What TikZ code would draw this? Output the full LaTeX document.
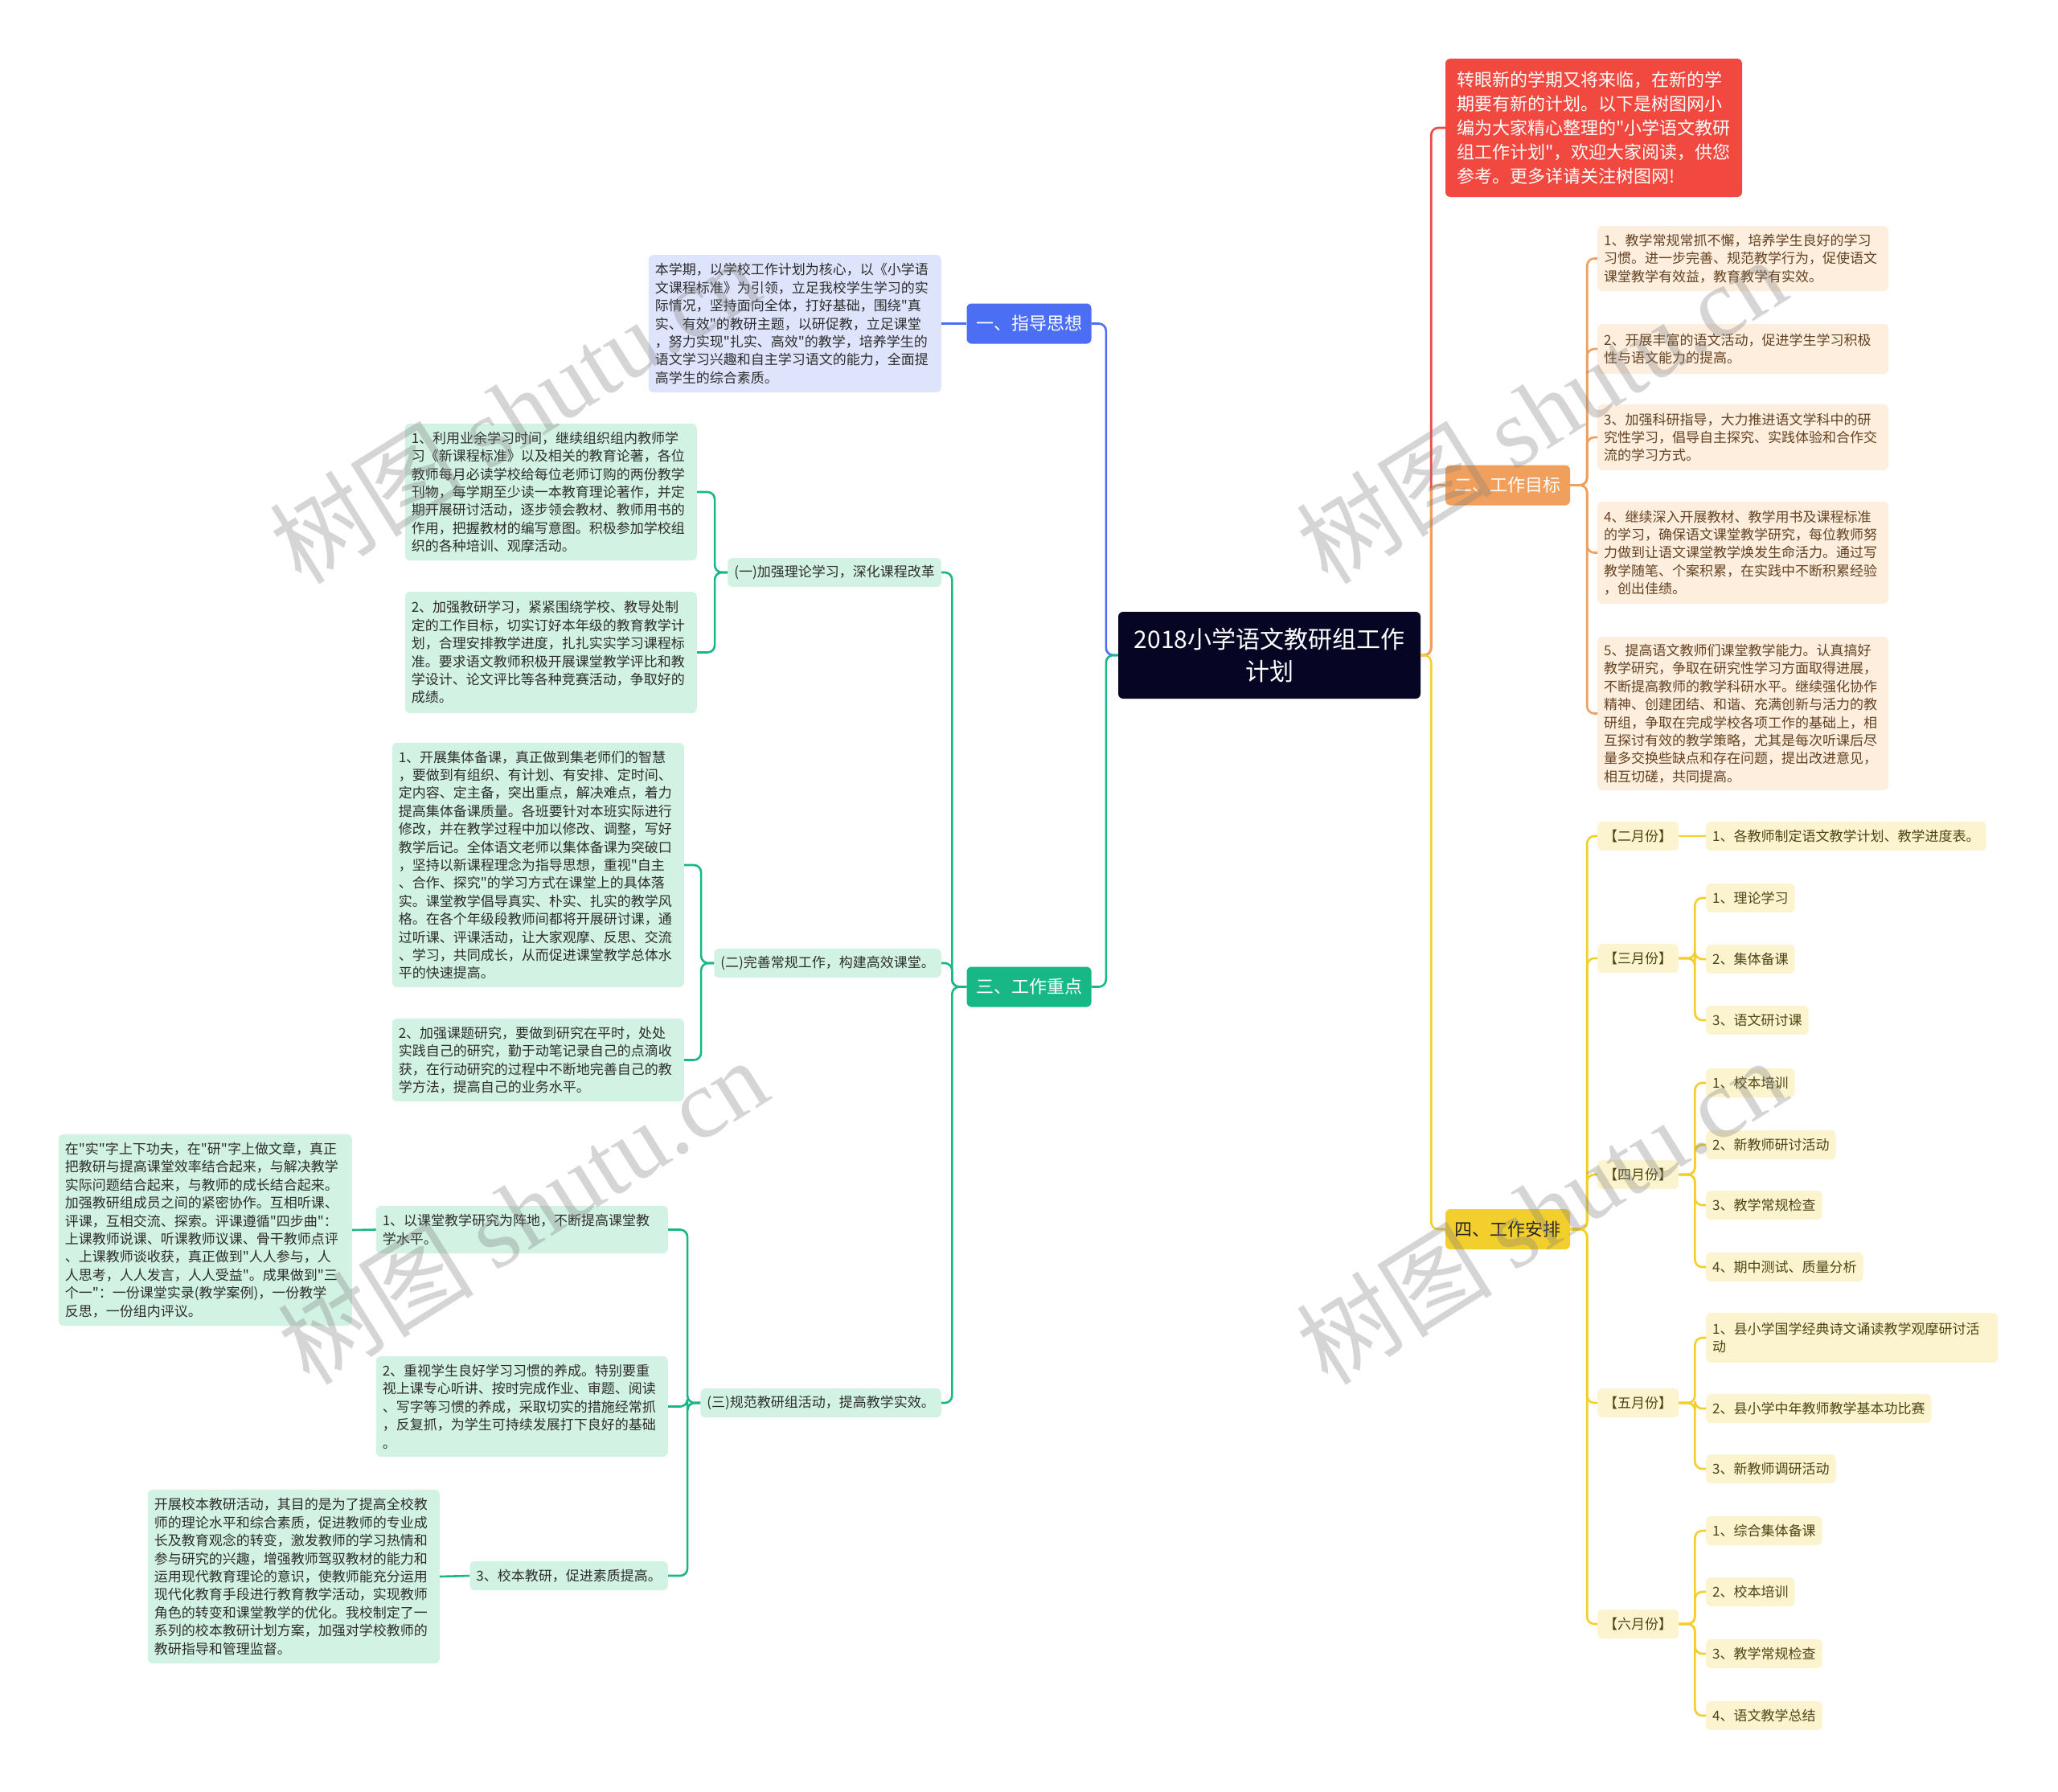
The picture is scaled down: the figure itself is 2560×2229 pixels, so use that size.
\documentclass[tikz,border=0pt]{standalone}
\usepackage{fontspec}
\setmainfont{Noto Sans CJK SC}[Ligatures=TeXOff]
\newfontfamily\wmfont{Liberation Serif}
\usepackage{tikz}
\definecolor{rootc}{RGB}{6, 6, 36}
\definecolor{redc}{RGB}{241, 72, 63}
\definecolor{bluec}{RGB}{76, 110, 245}
\definecolor{bluebg}{RGB}{222, 228, 251}
\definecolor{greenc}{RGB}{24, 183, 134}
\definecolor{greenbg}{RGB}{210, 242, 228}
\definecolor{orangec}{RGB}{240, 160, 92}
\definecolor{orangebg}{RGB}{253, 238, 222}
\definecolor{orangetext}{RGB}{100, 66, 34}
\definecolor{yellowc}{RGB}{243, 207, 46}
\definecolor{yellowbg}{RGB}{252, 244, 207}
\definecolor{yellowtext}{RGB}{78, 68, 20}
\definecolor{darktext}{RGB}{45, 45, 45}
\newcommand{\smallcn}{\fontsize{17}{22.4}\selectfont}
\newcommand{\midcn}{\fontsize{22}{30}\selectfont}
\newcommand{\bigcn}{\fontsize{30}{40}\selectfont}
\tikzset{
  box/.style={rounded corners=6pt, inner xsep=8pt, inner ysep=7pt, align=left, font=\smallcn},
  gbox/.style={box, fill=greenbg, text=darktext, text width=347pt},
  gsub/.style={box, fill=greenbg, text=darktext, minimum height=36pt},
  obox/.style={box, fill=orangebg, text=orangetext, text width=346pt},
  ybox/.style={box, fill=yellowbg, text=yellowtext, minimum height=36pt},
  topic/.style={rounded corners=6pt, font=\midcn, minimum width=155pt, minimum height=50pt, inner xsep=11pt},
  link/.style={line width=2.6pt, rounded corners=9pt},
  wm/.style={font=\fontsize{122}{122}\selectfont, text=gray, text opacity=0.33, rotate=32},
}

\begin{document}
\begin{tikzpicture}[x=1pt, y=-1pt]
    \useasboundingbox (0,0) rectangle (2560,2229);

    % Root
    \node[rounded corners=6pt, fill=rootc, text=white, font=\bigcn, align=center,
          minimum width=376pt, minimum height=108pt] (root) at (1579,815)
          {2018小学语文教研组工作\\计划};

    % Intro (red)
    \node[rounded corners=6pt, fill=redc, text=white, font=\midcn, align=left,
          text width=340pt, inner xsep=14.5pt, minimum height=172pt] (intro) at (1982.5,159)
          {转眼新的学期又将来临，在新的学\\期要有新的计划。以下是树图网小\\编为大家精心整理的"小学语文教研\\组工作计划"，欢迎大家阅读，供您\\参考。更多详请关注树图网!};

    % Main topics
    \node[topic, fill=bluec, text=white] (b1) at (1280,402.5) {一、指导思想};
    \node[topic, fill=orangec, text=white] (b2) at (1875.5,603.5) {二、工作目标};
    \node[topic, fill=greenc, text=white] (b3) at (1280,1227.5) {三、工作重点};
    \node[topic, fill=yellowc, text=black!85] (b4) at (1875.5,1529) {四、工作安排};

    % 一、指导思想
    \node[box, fill=bluebg, text=darktext, text width=348pt, minimum height=171pt, anchor=east] (bt) at (1171,402.5)
      {本学期，以学校工作计划为核心，以《小学语\\文课程标准》为引领，立足我校学生学习的实\\际情况，坚持面向全体，打好基础，围绕"真\\实、有效"的教研主题，以研促教，立足课堂\\，努力实现"扎实、高效"的教学，培养学生的\\语文学习兴趣和自主学习语文的能力，全面提\\高学生的综合素质。};

    % 三、工作重点 -- sub topics
    \node[gsub, anchor=east] (s1) at (1171,712) {(一)加强理论学习，深化课程改革};
    \node[gsub, anchor=east] (s2) at (1171,1198) {(二)完善常规工作，构建高效课堂。};
    \node[gsub, anchor=east] (s3) at (1171,1745) {(三)规范教研组活动，提高教学实效。};

    % (一)
    \node[gbox, minimum height=170pt, anchor=east] (s1a) at (867,612)
      {1、利用业余学习时间，继续组织组内教师学\\习《新课程标准》以及相关的教育论著，各位\\教师每月必读学校给每位老师订购的两份教学\\刊物，每学期至少读一本教育理论著作，并定\\期开展研讨活动，逐步领会教材、教师用书的\\作用，把握教材的编写意图。积极参加学校组\\织的各种培训、观摩活动。};
    \node[gbox, minimum height=151pt, anchor=east] (s1b) at (867,811.5)
      {2、加强教研学习，紧紧围绕学校、教导处制\\定的工作目标，切实订好本年级的教育教学计\\划，合理安排教学进度，扎扎实实学习课程标\\准。要求语文教师积极开展课堂教学评比和教\\学设计、论文评比等各种竞赛活动，争取好的\\成绩。};

    % (二)
    \node[gbox, minimum height=304pt, anchor=east] (s2a) at (851,1076)
      {1、开展集体备课，真正做到集老师们的智慧\\，要做到有组织、有计划、有安排、定时间、\\定内容、定主备，突出重点，解决难点，着力\\提高集体备课质量。各班要针对本班实际进行\\修改，并在教学过程中加以修改、调整，写好\\教学后记。全体语文老师以集体备课为突破口\\，坚持以新课程理念为指导思想，重视"自主\\、合作、探究"的学习方式在课堂上的具体落\\实。课堂教学倡导真实、朴实、扎实的教学风\\格。在各个年级段教师间都将开展研讨课，通\\过听课、评课活动，让大家观摩、反思、交流\\、学习，共同成长，从而促进课堂教学总体水\\平的快速提高。};
    \node[gbox, minimum height=103pt, anchor=east] (s2b) at (851,1318.5)
      {2、加强课题研究，要做到研究在平时，处处\\实践自己的研究，勤于动笔记录自己的点滴收\\获，在行动研究的过程中不断地完善自己的教\\学方法，提高自己的业务水平。};

    % (三)
    \node[gbox, minimum height=59pt, anchor=east] (s3a) at (831,1529.5)
      {1、以课堂教学研究为阵地，不断提高课堂教\\学水平。};
    \node[gbox, minimum height=125pt, anchor=east] (s3b) at (831,1749.5)
      {2、重视学生良好学习习惯的养成。特别要重\\视上课专心听讲、按时完成作业、审题、阅读\\、写字等习惯的养成，采取切实的措施经常抓\\，反复抓，为学生可持续发展打下良好的基础\\。};
    \node[gsub, anchor=east] (s3c) at (831,1960) {3、校本教研，促进素质提高。};

    \node[gbox, text width=349pt, minimum height=238pt, anchor=east] (s3a1) at (438,1530)
      {在"实"字上下功夫，在"研"字上做文章，真正\\把教研与提高课堂效率结合起来，与解决教学\\实际问题结合起来，与教师的成长结合起来。\\加强教研组成员之间的紧密协作。互相听课、\\评课，互相交流、探索。评课遵循"四步曲"：\\上课教师说课、听课教师议课、骨干教师点评\\、上课教师谈收获，真正做到"人人参与，人\\人思考，人人发言，人人受益"。成果做到"三\\个一"：一份课堂实录(教学案例)，一份教学\\反思，一份组内评议。};
    \node[gbox, minimum height=216pt, anchor=east] (s3c1) at (547,1961)
      {开展校本教研活动，其目的是为了提高全校教\\师的理论水平和综合素质，促进教师的专业成\\长及教育观念的转变，激发教师的学习热情和\\参与研究的兴趣，增强教师驾驭教材的能力和\\运用现代教育理论的意识，使教师能充分运用\\现代化教育手段进行教育教学活动，实现教师\\角色的转变和课堂教学的优化。我校制定了一\\系列的校本教研计划方案，加强对学校教师的\\教研指导和管理监督。};

    % 二、工作目标
    \node[obox, minimum height=81pt, anchor=west] (o1) at (1987,321.5)
      {1、教学常规常抓不懈，培养学生良好的学习\\习惯。进一步完善、规范教学行为，促使语文\\课堂教学有效益，教育教学有实效。};
    \node[obox, minimum height=62pt, anchor=west] (o2) at (1987,434)
      {2、开展丰富的语文活动，促进学生学习积极\\性与语文能力的提高。};
    \node[obox, minimum height=82pt, anchor=west] (o3) at (1987,544)
      {3、加强科研指导，大力推进语文学科中的研\\究性学习，倡导自主探究、实践体验和合作交\\流的学习方式。};
    \node[obox, minimum height=127pt, anchor=west] (o4) at (1987,687.5)
      {4、继续深入开展教材、教学用书及课程标准\\的学习，确保语文课堂教学研究，每位教师努\\力做到让语文课堂教学焕发生命活力。通过写\\教学随笔、个案积累，在实践中不断积累经验\\，创出佳绩。};
    \node[obox, minimum height=191pt, anchor=west] (o5) at (1987,887.5)
      {5、提高语文教师们课堂教学能力。认真搞好\\教学研究，争取在研究性学习方面取得进展，\\不断提高教师的教学科研水平。继续强化协作\\精神、创建团结、和谐、充满创新与活力的教\\研组，争取在完成学校各项工作的基础上，相\\互探讨有效的教学策略，尤其是每次听课后尽\\量多交换些缺点和存在问题，提出改进意见，\\相互切磋，共同提高。};

    % 四、工作安排 -- months
    \node[ybox, anchor=west] (m2) at (1987,1040) {【二月份】};
    \node[ybox, anchor=west] (m3) at (1987,1192) {【三月份】};
    \node[ybox, anchor=west] (m4) at (1987,1461) {【四月份】};
    \node[ybox, anchor=west] (m5) at (1987,1745) {【五月份】};
    \node[ybox, anchor=west] (m6) at (1987,2020) {【六月份】};

    % months -- items
    \node[ybox, anchor=west] (m2a) at (2122,1040) {1、各教师制定语文教学计划、教学进度表。};
    \node[ybox, anchor=west] (m3a) at (2122,1117) {1、理论学习};
    \node[ybox, anchor=west] (m3b) at (2122,1193) {2、集体备课};
    \node[ybox, anchor=west] (m3c) at (2122,1269) {3、语文研讨课};
    \node[ybox, anchor=west] (m4a) at (2122,1347) {1、校本培训};
    \node[ybox, anchor=west] (m4b) at (2122,1424) {2、新教师研讨活动};
    \node[ybox, anchor=west] (m4c) at (2122,1499) {3、教学常规检查};
    \node[ybox, anchor=west] (m4d) at (2122,1576) {4、期中测试、质量分析};
    \node[ybox, text width=347pt, minimum height=62pt, anchor=west] (m5a) at (2122,1664)
      {1、县小学国学经典诗文诵读教学观摩研讨活\\动};
    \node[ybox, anchor=west] (m5b) at (2122,1752) {2、县小学中年教师教学基本功比赛};
    \node[ybox, anchor=west] (m5c) at (2122,1827) {3、新教师调研活动};
    \node[ybox, anchor=west] (m6a) at (2122,1904) {1、综合集体备课};
    \node[ybox, anchor=west] (m6b) at (2122,1980) {2、校本培训};
    \node[ybox, anchor=west] (m6c) at (2122,2057) {3、教学常规检查};
    \node[ybox, anchor=west] (m6d) at (2122,2134) {4、语文教学总结};

    % Connectors, left side
    \draw[link, bluec] (root.west) -- ++(-15,0) |- (b1.east);
    \draw[link, greenc] (root.west) -- ++(-15,0) |- (b3.east);
    \draw[link, bluec] (b1.west) -- (bt.east);
    \foreach \c in {s1,s2,s3}
        \draw[link, greenc] (b3.west) -- ++(-18,0) |- (\c.east);
    \foreach \c in {s1a,s1b}
        \draw[link, greenc] (s1.west) -- ++(-16,0) |- (\c.east);
    \foreach \c in {s2a,s2b}
        \draw[link, greenc] (s2.west) -- ++(-16,0) |- (\c.east);
    \foreach \c in {s3a,s3b,s3c}
        \draw[link, greenc] (s3.west) -- ++(-16,0) |- (\c.east);
    \draw[link, greenc] (s3a.west) -- (s3a1.east);
    \draw[link, greenc] (s3c.west) -- (s3c1.east);

    % Connectors, right side
    \draw[link, redc] (root.east) -- ++(13,0) |- (intro.west);
    \draw[link, orangec] (root.east) -- ++(13,0) |- (b2.west);
    \draw[link, yellowc] (root.east) -- ++(13,0) |- (b4.west);
    \foreach \c in {o1,o2,o3,o4,o5}
        \draw[link, orangec] (b2.east) -- ++(21,0) |- (\c.west);
    \foreach \c in {m2,m3,m4,m5,m6}
        \draw[link, yellowc] (b4.east) -- ++(21,0) |- (\c.west);
    \draw[link, yellowc] (m2.east) -- (m2a.west);
    \foreach \c in {m3a,m3b,m3c}
        \draw[link, yellowc] (m3.east) -- ++(20,0) |- (\c.west);
    \foreach \c in {m4a,m4b,m4c,m4d}
        \draw[link, yellowc] (m4.east) -- ++(20,0) |- (\c.west);
    \foreach \c in {m5a,m5b,m5c}
        \draw[link, yellowc] (m5.east) -- ++(20,0) |- (\c.west);
    \foreach \c in {m6a,m6b,m6c,m6d}
        \draw[link, yellowc] (m6.east) -- ++(20,0) |- (\c.west);

    % Watermarks
    \node[wm] (wm1) at (640,510) {树图 {\wmfont shutu.cn}};
    \node[wm] (wm2) at (1917,510) {树图 {\wmfont shutu.cn}};
    \node[wm] (wm3) at (650,1506) {树图 {\wmfont shutu.cn}};
    \node[wm] (wm4) at (1917,1506) {树图 {\wmfont shutu.cn}};
\end{tikzpicture}
\end{document}
